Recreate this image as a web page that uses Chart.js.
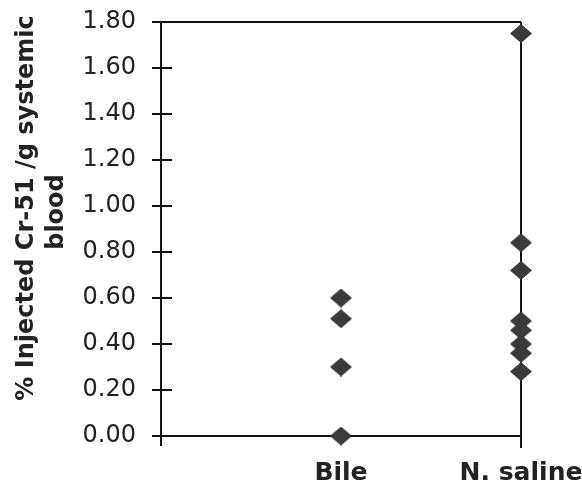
<!DOCTYPE html>
<html>
<head>
<meta charset="utf-8">
<script src="https://cdn.jsdelivr.net/npm/chart.js@4/dist/chart.umd.min.js"></script>
<style>
  html, body { margin: 0; padding: 0; background: #fff; }
  #wrap { width: 582px; height: 488px; }
</style>
</head>
<body>
<div id="wrap"><canvas id="grafico"></canvas></div>
<script>
// valores
const categorias = ['Bile', 'N. saline']
const valoresBile = [0.60, 0.51, 0.30, 0.00]
const valoresSalina = [1.75, 0.84, 0.72, 0.50, 0.46, 0.40, 0.36, 0.28]
const ticksY = [0, 0.2, 0.4, 0.6, 0.8, 1.0, 1.2, 1.4, 1.6, 1.8]
const tituloY = ['% Injected Cr-51 /g systemic', 'blood']

const corTexto = '#222'
const corLinha = '#111'

// losango um pouco mais largo do que alto, como no original
function criaLosango(w, h, cor){
	let c = document.createElement('canvas')
	c.width = w
	c.height = h
	let ctx = c.getContext('2d')
	ctx.fillStyle = cor
	ctx.beginPath()
	ctx.moveTo(w / 2, 0)
	ctx.lineTo(w, h / 2)
	ctx.lineTo(w / 2, h)
	ctx.lineTo(0, h / 2)
	ctx.closePath()
	ctx.fill()
	return c
}
const losango = criaLosango(22, 19, '#3a3a3a')

function montaPontos(indice, valores){
	return valores.map(v => ({ x: indice + 1, y: v }))
}

// eixos em caixa, com tracinhos cruzando o eixo y
const eixos = {
	id: 'eixos',
	beforeDatasetsDraw(chart){
		let ctx = chart.ctx
		let a = chart.chartArea
		let y = chart.scales.y
		ctx.save()
		ctx.strokeStyle = corLinha
		ctx.lineWidth = 2
		ctx.beginPath()
		ctx.moveTo(a.left - 6, a.top); ctx.lineTo(a.right, a.top)
		ctx.moveTo(a.left - 9, a.bottom); ctx.lineTo(a.right, a.bottom)
		ctx.moveTo(a.left, a.top); ctx.lineTo(a.left, a.bottom + 10)
		ctx.moveTo(a.right, a.top); ctx.lineTo(a.right, a.bottom + 12)
		ticksY.forEach(t => {
			let py = Math.round(y.getPixelForValue(t))
			ctx.moveTo(a.left - 9, py); ctx.lineTo(a.left + 11, py)
		})
		ctx.stroke()

		// titulo do eixo y em duas linhas
		ctx.fillStyle = corTexto
		ctx.font = 'bold 24px "DejaVu Sans"'
		ctx.textAlign = 'center'
		ctx.textBaseline = 'alphabetic'
		ctx.translate(33, 208)
		ctx.rotate(-Math.PI / 2)
		ctx.fillText(tituloY[0], 0, 0)
		ctx.fillText(tituloY[1], -4, 30)
		ctx.restore()
	}
}

var grafico = document.getElementById('grafico').getContext('2d')
new Chart(grafico, {
	type: 'scatter',
	data: {
		datasets: [
			{ label: categorias[0], data: montaPontos(0, valoresBile), pointStyle: losango, clip: false },
			{ label: categorias[1], data: montaPontos(1, valoresSalina), pointStyle: losango, clip: false }
		]
	},
	options: {
		responsive: true,
		maintainAspectRatio: false,
		animation: false,
		layout: { padding: { top: 22, right: 61, bottom: 0, left: 0 } },
		plugins: {
			legend: { display: false },
			tooltip: { enabled: false }
		},
		scales: {
			x: {
				type: 'linear',
				min: 0,
				max: 2,
				border: { display: false },
				grid: { display: false, drawTicks: false },
				afterBuildTicks: s => { s.ticks = [{ value: 1 }, { value: 2 }] },
				afterFit: s => { s.height = 52; s.paddingLeft = 0; s.paddingRight = 0 },
				ticks: {
					color: corTexto,
					font: { family: 'DejaVu Sans', size: 25, weight: 'bold' },
					padding: 22,
					maxRotation: 0,
					autoSkip: false,
					callback: v => categorias[v - 1]
				}
			},
			y: {
				min: 0,
				max: 1.8,
				border: { display: false },
				grid: { display: false, drawTicks: false },
				afterBuildTicks: s => { s.ticks = ticksY.map(v => ({ value: v })) },
				afterFit: s => { s.width = 161; s.paddingTop = 0; s.paddingBottom = 0 },
				ticks: {
					color: corTexto,
					font: { family: 'DejaVu Sans', size: 24 },
					padding: 25,
					callback: v => v.toFixed(2)
				}
			}
		}
	},
	plugins: [eixos]
})
</script>
</body>
</html>
